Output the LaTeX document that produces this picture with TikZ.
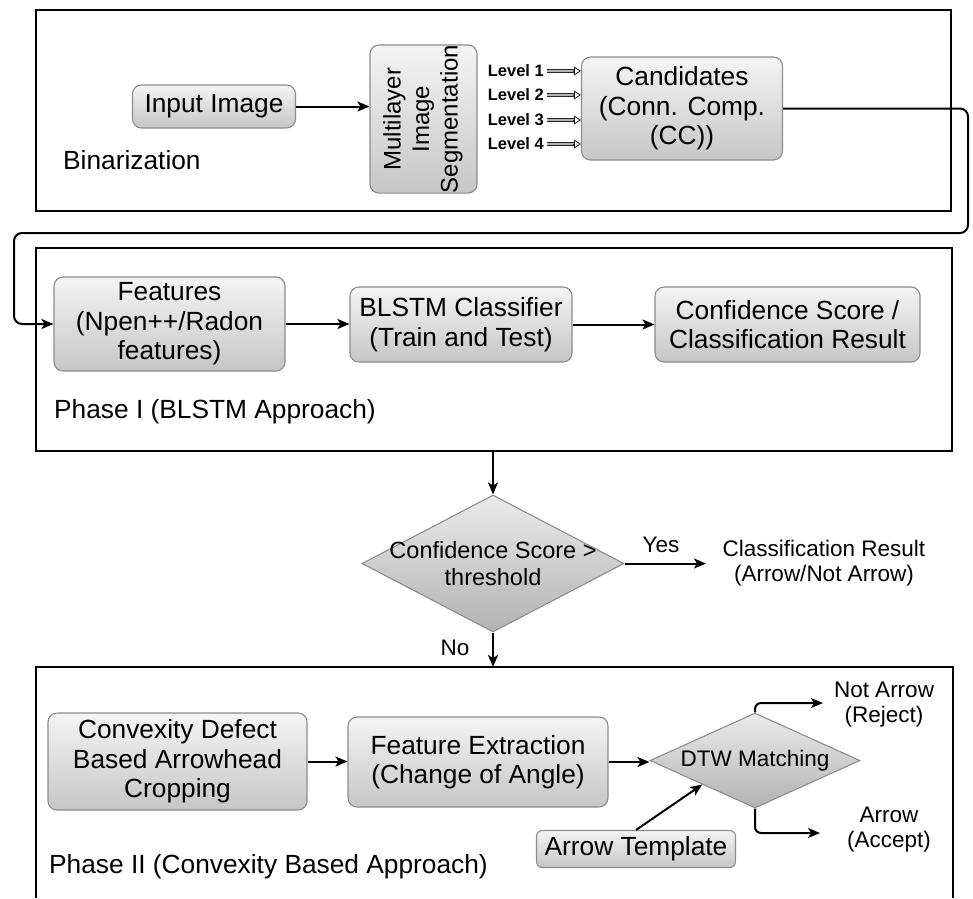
\documentclass[tikz,border=0pt]{standalone}
\usepackage{fontspec}
\setmainfont{Liberation Sans}
\usetikzlibrary{arrows.meta,shapes.geometric,calc}
\newcommand\mainfs{\fontsize{26.3}{29.5}\selectfont}
\newcommand\labfs{\fontsize{26.3}{29}\selectfont}
\newcommand\segfs{\fontsize{24}{28.5}\selectfont}
\newcommand\smallfs{\fontsize{22.5}{25}\selectfont}
\newcommand\diafs{\fontsize{23.5}{27.5}\selectfont}
\newcommand\lvlfs{\fontsize{16.5}{18}\selectfont\bfseries}
\definecolor{nodeborder}{HTML}{8C8C8C}
\definecolor{shadetop}{HTML}{F4F4F4}
\definecolor{shadebot}{HTML}{C6C6C6}
\begin{document}
\begin{tikzpicture}[x=1pt,y=-1pt,
  frame/.style={draw=black, line width=1.3pt, inner sep=0pt},
  box/.style={draw=nodeborder, line width=1.1pt, rounded corners=9pt,
    top color=shadetop, bottom color=shadebot, align=center, inner sep=0pt, font=\mainfs},
  dia/.style={diamond, draw=nodeborder, line width=1.1pt, top color=black!8, bottom color=black!30,
    inner sep=0pt},
  txt/.style={align=center, inner sep=0pt},
  arr/.style={-{Stealth[length=12pt,width=10pt,inset=3pt]}, line width=2pt},
  lvl/.style={draw=black!85, line width=0.8pt, double=black!30, double distance=2.2pt},
  lvltip/.style={-{Triangle[open,length=7pt,width=9pt]}, draw=black!85, line width=0.8pt}
]
\useasboundingbox (0,0) rectangle (973,898);

% ---------- Binarization frame ----------
\node[frame, minimum width=915, minimum height=201] (f0) at (493.5,110.5) {};
\node[box, minimum width=163, minimum height=43] (inp) at (214,106.5) {Input Image};
\node[box, minimum width=107, minimum height=148] (seg) at (423.5,119) {\segfs\rotatebox{90}{\begin{tabular}{@{}c@{}}Multilayer\\Image\\Segmentation\end{tabular}}};
\node[box, minimum width=201, minimum height=103] (cand) at (682,108.5) {Candidates\\(Conn. Comp.\\(CC))};
\node[txt, anchor=east, font=\lvlfs] (l1) at (544,71) {Level 1};
\node[txt, anchor=east, font=\lvlfs] (l2) at (544,95) {Level 2};
\node[txt, anchor=east, font=\lvlfs] (l3) at (544,120) {Level 3};
\node[txt, anchor=east, font=\lvlfs] (l4) at (544,144) {Level 4};
\node[txt, anchor=west, font=\labfs] (bin) at (63,160) {Binarization};

\draw[arr] (inp.east) -- (inp.east -| seg.west);
\foreach \l in {l1,l2,l3,l4}{
  \draw[lvl] ([xshift=3pt]\l.east) -- ([xshift=-7pt]\l.east -| cand.west);
  \draw[lvltip] ([xshift=-8pt]\l.east -| cand.west) -- (\l.east -| cand.west);
}

% ---------- Phase I frame ----------
\node[frame, minimum width=916, minimum height=203] (f1) at (494,349.5) {};
\node[box, minimum width=231, minimum height=94] (feat) at (169.5,324) {Features\\(Npen++/Radon\\features)};
\node[box, minimum width=222, minimum height=75] (blstm) at (461,324.5) {BLSTM Classifier\\(Train and Test)};
\node[box, minimum width=265, minimum height=75] (conf) at (787.5,324.5) {Confidence Score /\\Classification Result};
\node[txt, anchor=west, font=\labfs] (ph1) at (54,412) {Phase I (BLSTM Approach)};

\coordinate (cr) at (968,233);
\coordinate (cl) at (14,233);
\draw[arr, rounded corners=8pt] (cand.east) -| (cr) -- (cl) |- (feat.west);
\draw[arr] (feat.east) -- (feat.east -| blstm.west);
\draw[arr] (blstm.east) -- (blstm.east -| conf.west);

% ---------- Decision ----------
\node[dia, minimum width=262, minimum height=137] (d1) at (493,563.5) {};
\node[txt, font=\diafs] at (d1.center) {Confidence Score >\\threshold};
\node[txt, font=\smallfs] (yes) at (661,545) {Yes};
\node[txt, font=\smallfs] (no) at (455,648) {No};
\node[txt, font=\smallfs] (res) at (824,563) {Classification Result\\(Arrow/Not Arrow)};
\coordinate (yesend) at (706,563.5);
\draw[arr] (f1.south -| d1.north) -- (d1.north);
\draw[arr] (d1.east) -- (yesend);

% ---------- Phase II frame ----------
\coordinate (f2bl) at (36,898);
\coordinate (f2tr) at (953,667);
\draw[line width=1.3pt] (f2bl) |- (f2tr) -- (f2tr |- f2bl);
\draw[arr] (d1.south) -- (d1.south |- f2tr);

\node[box, minimum width=259, minimum height=97] (conv) at (177.5,761.5) {Convexity Defect\\Based Arrowhead\\Cropping};
\node[box, minimum width=260, minimum height=90] (fext) at (478,762) {Feature Extraction\\(Change of Angle)};
\node[dia, minimum width=210, minimum height=95] (d2) at (755,760.5) {};
\node[txt, font=\smallfs] at (d2.center) {DTW Matching};
\node[box, minimum width=199, minimum height=37, rounded corners=6pt] (tmpl) at (636,849) {Arrow Template};
\node[txt, font=\smallfs] (na) at (884,705) {Not Arrow\\(Reject)};
\node[txt, font=\smallfs] (ac) at (889,830) {Arrow\\(Accept)};
\node[txt, anchor=west, font=\labfs] (ph2) at (49,867) {Phase II (Convexity Based Approach)};

\coordinate (naend) at (823,703);
\coordinate (acend) at (820,833);
\draw[arr] (conv.east) -- (conv.east -| fext.west);
\draw[arr] (fext.east) -- (fext.east -| d2.west);
\draw[arr] (tmpl.north) -- (d2.south west);
\draw[arr, rounded corners=6pt] (d2.north) |- (naend);
\draw[arr, rounded corners=6pt] (d2.south) |- (acend);
\end{tikzpicture}
\end{document}
